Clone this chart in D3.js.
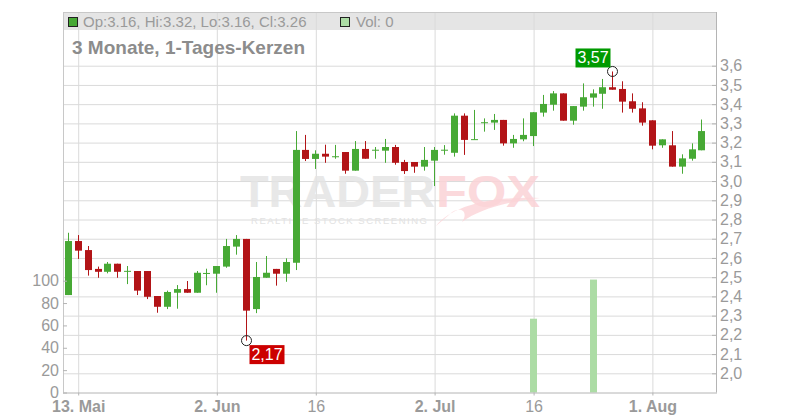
<!DOCTYPE html>
<html><head><meta charset="utf-8">
<script src="https://cdn.jsdelivr.net/npm/d3@7"></script>
<style>
body{margin:0;background:#fff}
svg{display:block}
text{font-family:"Liberation Sans",Arial,sans-serif}
</style>
</head><body>
<svg id="chart" width="800" height="420"></svg>
<script>
// ---------- data ----------
const dates = [
 "2025-05-12","2025-05-13","2025-05-14","2025-05-15","2025-05-16","2025-05-19","2025-05-20","2025-05-21","2025-05-22","2025-05-23",
 "2025-05-26","2025-05-27","2025-05-28","2025-05-29","2025-05-30","2025-06-02","2025-06-03","2025-06-04","2025-06-05","2025-06-06",
 "2025-06-09","2025-06-10","2025-06-11","2025-06-12","2025-06-13","2025-06-16","2025-06-17","2025-06-18","2025-06-19","2025-06-20",
 "2025-06-23","2025-06-24","2025-06-25","2025-06-26","2025-06-27","2025-06-30","2025-07-01","2025-07-02","2025-07-03","2025-07-04",
 "2025-07-07","2025-07-08","2025-07-09","2025-07-10","2025-07-11","2025-07-14","2025-07-15","2025-07-16","2025-07-17","2025-07-18",
 "2025-07-21","2025-07-22","2025-07-23","2025-07-24","2025-07-25","2025-07-28","2025-07-29","2025-07-30","2025-07-31","2025-08-01",
 "2025-08-04","2025-08-05","2025-08-06","2025-08-07","2025-08-08"];
const open = [
 2.407,2.688,2.641,2.543,2.528,2.570,2.531,2.532,2.532,2.402,
 2.346,2.419,2.438,2.419,2.519,2.518,2.555,2.659,2.699,2.334,
 2.497,2.543,2.518,2.575,3.162,3.115,3.142,3.126,3.151,3.054,
 3.167,3.160,3.158,3.177,3.099,3.099,3.075,3.106,3.160,3.147,
 3.340,3.215,3.305,3.304,3.318,3.196,3.217,3.234,3.356,3.397,
 3.456,3.314,3.387,3.434,3.454,3.488,3.479,3.415,3.378,3.316,
 3.186,3.186,3.075,3.116,3.16];
const high = [
 2.731,2.719,2.662,2.555,2.579,2.570,2.558,2.532,2.532,2.402,
 2.430,2.459,2.480,2.532,2.544,2.558,2.699,2.719,2.699,2.579,
 2.610,2.543,2.598,3.260,3.240,3.160,3.189,3.188,3.151,3.208,
 3.208,3.177,3.219,3.188,3.110,3.099,3.177,3.177,3.187,3.352,
 3.352,3.370,3.326,3.349,3.318,3.240,3.326,3.358,3.448,3.468,
 3.456,3.390,3.508,3.477,3.531,3.570,3.519,3.456,3.410,3.316,
 3.217,3.260,3.139,3.196,3.32];
const low = [
 2.407,2.595,2.508,2.497,2.520,2.497,2.464,2.407,2.386,2.315,
 2.334,2.336,2.419,2.419,2.458,2.419,2.549,2.617,2.170,2.313,
 2.497,2.456,2.476,2.537,3.104,3.063,3.095,3.116,3.038,3.054,
 3.116,3.116,3.095,3.085,3.037,3.043,3.054,2.974,3.137,3.127,
 3.136,3.215,3.257,3.266,3.184,3.173,3.207,3.182,3.335,3.366,
 3.314,3.293,3.366,3.387,3.376,3.475,3.356,3.356,3.288,3.165,
 3.173,3.075,3.038,3.106,3.16];
const close = [
 2.688,2.638,2.537,2.528,2.570,2.528,2.533,2.430,2.398,2.346,
 2.423,2.438,2.419,2.523,2.522,2.558,2.662,2.699,2.326,2.501,
 2.523,2.518,2.579,3.162,3.115,3.142,3.127,3.129,3.054,3.167,
 3.116,3.163,3.177,3.095,3.052,3.075,3.110,3.162,3.163,3.340,
 3.214,3.218,3.306,3.318,3.196,3.219,3.240,3.358,3.401,3.456,
 3.314,3.390,3.436,3.456,3.488,3.475,3.413,3.376,3.304,3.184,
 3.217,3.075,3.118,3.165,3.26];
const volume = [
 0,0,0,0,0,0,0,0,0,0, 0,0,0,0,0,0,0,0,0,0,
 0,0,0,0,0,0,0,0,0,0, 0,0,0,0,0,0,0,0,0,0,
 0,0,0,0,0,0,0,66,0,0, 0,0,0,101,0,0,0,0,0,0,
 0,0,0,0,0];
const xTickDates  = ["2025-05-13","2025-06-02","2025-06-16","2025-07-02","2025-07-16","2025-08-01"];
const xTickLabels = ["13. Mai","2. Jun","16","2. Jul","16","1. Aug"];
const xTickBold   = [true,true,false,true,false,true];
const priceTicks  = [2.0,2.1,2.2,2.3,2.4,2.5,2.6,2.7,2.8,2.9,3.0,3.1,3.2,3.3,3.4,3.5,3.6];
const volTicks    = [0,20,40,60,80,100];
const titleText   = "3 Monate, 1-Tages-Kerzen";

// ---------- layout ----------
const L = 63, R = 716, T = 12, B = 392.5;
const GREEN = "#47a935", RED = "#b21417", GRID = "#dadada", AX = "#b4b4b4", TXT = "#9a9a9a";
const svg = d3.select("#chart");

const x = d3.scalePoint().domain(dates).range([68.3, 701.9]);
const y = d3.scaleLinear().domain([2.0, 3.6]).range([373.3, 65.7]);
const yv = d3.scaleLinear().domain([0, 100]).range([B, 280.7]);
const deComma = v => d3.format(".1f")(v).replace(".", ",");
const deComma2 = v => d3.format(".2f")(v).replace(".", ",");

// header band
svg.append("rect").attr("x", L).attr("y", T).attr("width", R - L).attr("height", 18).attr("fill", "#e5e5e5");

// grid
const gx = svg.append("g").attr("transform", `translate(0,${B})`)
  .call(d3.axisBottom(x).tickValues(xTickDates).tickSize(-(B - T)).tickFormat(""));
gx.select(".domain").remove();
gx.selectAll("line").attr("stroke", GRID);
const gy = svg.append("g").attr("transform", `translate(${L},0)`)
  .call(d3.axisLeft(y).tickValues(priceTicks).tickSize(-(R - L)).tickFormat(""));
gy.select(".domain").remove();
gy.selectAll("line").attr("stroke", GRID);

// watermark
const wm = svg.append("g").attr("pointer-events", "none");
wm.append("text").attr("x", 240).attr("y", 207).attr("font-size", 45).attr("font-weight", "bold")
  .attr("textLength", 195).attr("lengthAdjust", "spacingAndGlyphs").attr("fill", "#e4e4e4").attr("opacity", 0.85).text("TRADER");
wm.append("text").attr("x", 436).attr("y", 207).attr("font-size", 45).attr("font-weight", "bold")
  .attr("textLength", 104).attr("lengthAdjust", "spacingAndGlyphs").attr("fill", "#fbd3d7").attr("opacity", 0.85).text("FOX");
wm.append("path").attr("d", "M436,226 C452,206 490,196 540,198 C505,202 478,210 462,222 C470,210 458,206 450,214 Z")
  .attr("fill", "#fbd3d7").attr("opacity", 0.8);
wm.append("text").attr("x", 251).attr("y", 224).attr("font-size", 9.5)
  .attr("textLength", 176).attr("fill", "#e2e2e2").text("REALTIME STOCK SCREENING");

// frame lines
svg.append("line").attr("x1", L).attr("x2", R).attr("y1", T + 0.5).attr("y2", T + 0.5).attr("stroke", "#c8c8c8");
svg.append("line").attr("x1", L + 0.5).attr("x2", L + 0.5).attr("y1", T).attr("y2", B).attr("stroke", "#c8c8c8");
svg.append("line").attr("x1", R + 0.5).attr("x2", R + 0.5).attr("y1", T).attr("y2", B).attr("stroke", AX);

// volume bars
svg.append("g").selectAll("rect").data(dates.map((d, i) => ({d, v: volume[i]})).filter(e => e.v > 0))
  .join("rect")
  .attr("x", e => Math.round(x(e.d) - 3.5)).attr("width", 7)
  .attr("y", e => yv(e.v)).attr("height", e => B - yv(e.v))
  .attr("fill", "#acdca5");

// candles
const data = dates.map((d, i) => ({d, o: open[i], h: high[i], l: low[i], c: close[i]}));
const cg = svg.append("g").selectAll("g").data(data).join("g");
cg.append("line")
  .attr("x1", e => Math.round(x(e.d) - 3.5) + 3.5).attr("x2", e => Math.round(x(e.d) - 3.5) + 3.5)
  .attr("y1", e => y(e.h)).attr("y2", e => y(e.l))
  .attr("stroke", e => e.c >= e.o ? GREEN : RED).attr("stroke-width", 1);
cg.append("rect")
  .attr("x", e => Math.round(x(e.d) - 3.5)).attr("width", 7)
  .attr("y", e => y(Math.max(e.o, e.c)))
  .attr("height", e => Math.max(1, Math.abs(y(e.o) - y(e.c))))
  .attr("fill", e => e.c >= e.o ? GREEN : RED);

// axes
const ax = svg.append("g").attr("transform", `translate(0,${B})`)
  .call(d3.axisBottom(x).tickValues(xTickDates).tickSize(3).tickPadding(5).tickSizeOuter(0)
        .tickFormat(d => xTickLabels[xTickDates.indexOf(d)]));
ax.select(".domain").attr("stroke", AX).attr("d", `M${L},0.5H${R + 1}`);
ax.selectAll("line").attr("stroke", AX);
ax.selectAll("text").attr("font-size", 16).attr("fill", TXT)
  .attr("font-weight", d => xTickBold[xTickDates.indexOf(d)] ? "bold" : "normal");

const ar = svg.append("g").attr("transform", `translate(${R},0)`)
  .call(d3.axisRight(y).tickValues(priceTicks).tickSize(-4).tickPadding(4).tickFormat(deComma));
ar.select(".domain").remove();
ar.selectAll("line").attr("stroke", AX);
ar.selectAll("text").attr("font-size", 16).attr("fill", TXT);

const al = svg.append("g").attr("transform", `translate(${L},0)`)
  .call(d3.axisLeft(yv).tickValues(volTicks).tickSize(-4).tickPadding(4));
al.select(".domain").remove();
al.selectAll("line").attr("stroke", AX);
al.selectAll("text").attr("font-size", 16).attr("fill", TXT);

// high / low markers
const iHi = d3.maxIndex(high), iLo = d3.minIndex(low);
const mk = svg.append("g");
function marker(i, val, isHigh) {
  const cx = Math.round(x(dates[i]) - 3.5) + 3.5, cy = y(val);
  mk.append("circle").attr("cx", cx).attr("cy", cy).attr("r", 5).attr("fill", "none").attr("stroke", "#222");
  const w = 35, h = 19;
  const bx = isHigh ? cx - 2 - w : cx + 3;
  const by = isHigh ? cy - 4 - h : cy + 4.5;
  mk.append("rect").attr("x", bx).attr("y", by).attr("width", w).attr("height", h)
    .attr("fill", isHigh ? "#009a00" : "#cc0000");
  mk.append("text").attr("x", bx + w / 2).attr("y", by + 15).attr("text-anchor", "middle")
    .attr("font-size", 16).attr("fill", "#fff").text(deComma2(val));
}
marker(iHi, high[iHi], true);
marker(iLo, low[iLo], false);

// header legend
const last = data.length - 1;
svg.append("rect").attr("x", 68.5).attr("y", 17.5).attr("width", 9).attr("height", 9)
  .attr("fill", GREEN).attr("stroke", "#222");
svg.append("text").attr("x", 83).attr("y", 26.5).attr("font-size", 15).attr("fill", TXT)
  .text(`Op:${open[last].toFixed(2)}, Hi:${high[last].toFixed(2)}, Lo:${low[last].toFixed(2)}, Cl:${close[last].toFixed(2)}`);
svg.append("rect").attr("x", 340.5).attr("y", 17.5).attr("width", 9).attr("height", 9)
  .attr("fill", "#acdca5").attr("stroke", "#222");
svg.append("text").attr("x", 356).attr("y", 26.5).attr("font-size", 15).attr("fill", TXT)
  .text(`Vol: ${volume[last]}`);

// title
svg.append("text").attr("x", 72).attr("y", 54).attr("font-size", 19).attr("font-weight", "bold")
  .attr("fill", "#8c8c8c").text(titleText);
</script>
</body></html>
